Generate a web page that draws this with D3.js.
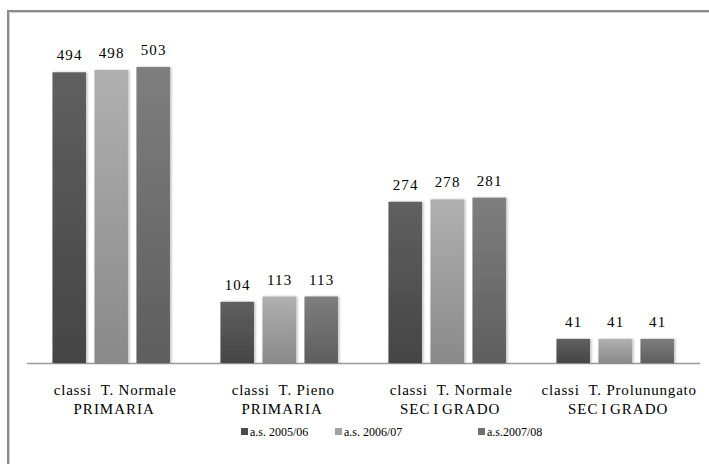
<!DOCTYPE html>
<html><head><meta charset="utf-8">
<script src="https://cdn.jsdelivr.net/npm/d3@7"></script>
<style>
html,body{margin:0;padding:0;background:#fff;}
svg{display:block;}
text{font-family:"Liberation Serif","Times New Roman",serif;fill:#000;}
</style></head>
<body>
<svg id="chart" width="709" height="464"></svg>
<script>
const categoriesLine1 = ["classi  T. Normale", "classi  T. Pieno", "classi  T. Normale", "classi  T. Prolunungato"];
const categoriesLine2 = ["PRIMARIA", "PRIMARIA", "SEC I GRADO", "SEC I GRADO"];
const seriesNames = ["a.s. 2005/06", "a.s. 2006/07", "a.s.2007/08"];
const values2005 = [494, 104, 274, 41];
const values2006 = [498, 113, 278, 41];
const values2007 = [503, 113, 281, 41];
const seriesValues = [values2005, values2006, values2007];

const svg = d3.select("#chart");
const W = 709, H = 464;
const baseY = 363;

// frame
svg.append("path").attr("d", `M8,${H+5} V11 H${W+5}`).attr("fill","none").attr("stroke","#8a8a8a").attr("stroke-width",2);
svg.append("path").attr("d", `M9.5,${H+5} V12.5 H${W+5}`).attr("fill","none").attr("stroke","#d0d0d0").attr("stroke-width",1);

const defs = svg.append("defs");
const grads = [["#606060","#454545"],["#b0b0b0","#898989"],["#7e7e7e","#5e5e5e"]];
grads.forEach((g,i)=>{
  const lg = defs.append("linearGradient").attr("id","g"+i).attr("x1",0).attr("y1",0).attr("x2",0).attr("y2",1);
  lg.append("stop").attr("offset","0%").attr("stop-color",g[0]);
  lg.append("stop").attr("offset","100%").attr("stop-color",g[1]);
});
const f = defs.append("filter").attr("id","sh").attr("x","-20%").attr("y","-10%").attr("width","140%").attr("height","120%");
f.append("feDropShadow").attr("dx",1.5).attr("dy",0).attr("stdDeviation",1.2).attr("flood-color","#000").attr("flood-opacity",0.25);

const x0 = d3.scaleBand().domain(d3.range(categoriesLine1.length)).range([27.2, 699.2]);
const y = d3.scaleLinear().domain([0, 503]).range([baseY, 67]);

const barW = 33.5, barStep = 42;

// baseline
svg.append("line").attr("x1",27).attr("x2",700).attr("y1",baseY+0.5).attr("y2",baseY+0.5).attr("stroke","#9a9a9a").attr("stroke-width",1.3);

const groups = svg.selectAll("g.grp").data(categoriesLine1).join("g").attr("class","grp")
  .attr("transform",(d,i)=>`translate(${x0(i)+x0.bandwidth()/2},0)`);

seriesNames.forEach((s,si)=>{
  groups.append("rect")
    .attr("x",(d,i)=> (si-1)*barStep - barW/2)
    .attr("y",(d,i)=> y(seriesValues[si][i]))
    .attr("width",barW)
    .attr("height",(d,i)=> baseY - y(seriesValues[si][i]))
    .attr("fill",`url(#g${si})`)
    .attr("filter","url(#sh)");
  groups.append("text")
    .attr("x",(d,i)=> (si-1)*barStep + 0.5)
    .attr("y",(d,i)=> y(seriesValues[si][i]) - 12)
    .attr("text-anchor","middle")
    .attr("font-size",15)
    .attr("letter-spacing",1.2)
    .text((d,i)=> seriesValues[si][i]);
});

groups.append("text").attr("x",4).attr("y",395).attr("text-anchor","middle").attr("font-size",15)
  .attr("letter-spacing",0.8).style("white-space","pre").text(d=>d);
groups.append("text").attr("x",3).attr("y",414).attr("text-anchor","middle").attr("font-size",15)
  .attr("letter-spacing",1).attr("word-spacing",-2).text((d,i)=>categoriesLine2[i]);

// legend
const legCols = ["#4b4b4b","#a2a2a2","#707070"];
const legX = [241, 335, 478];
const legY = 436;
seriesNames.forEach((s,i)=>{
  svg.append("rect").attr("x",legX[i]).attr("y",legY-8).attr("width",7).attr("height",7).attr("fill",legCols[i]);
  svg.append("text").attr("x",legX[i]+9).attr("y",legY).attr("font-size",12).text(s);
});
</script>
</body></html>
